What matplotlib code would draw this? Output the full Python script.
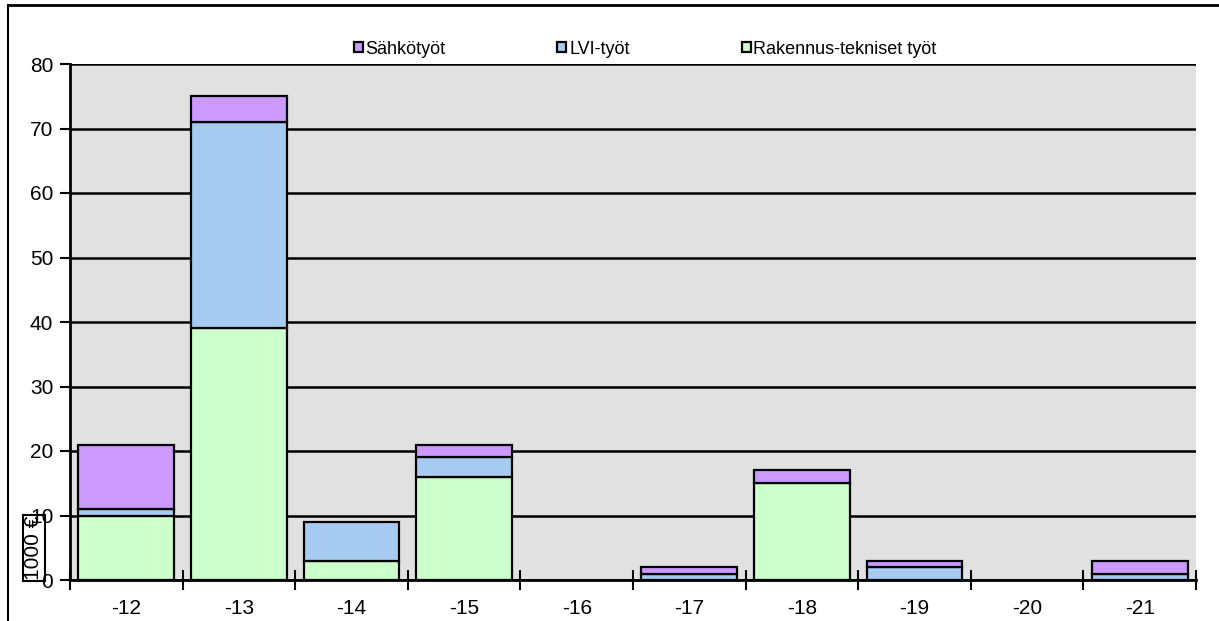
import numpy as np
import matplotlib.pyplot as plt
from matplotlib.lines import Line2D

# kustannukset 1000 € / vuosi
years = ['-12', '-13', '-14', '-15', '-16', '-17', '-18', '-19', '-20', '-21']
rakennus = [10, 39, 3, 16, 0, 0, 15, 0, 0, 0]
lvi = [1, 32, 6, 3, 0, 1, 0, 2, 0, 1]
sahko = [10, 4, 0, 2, 0, 1, 2, 1, 0, 2]

plt.rcParams['font.family'] = ['Liberation Sans', 'DejaVu Sans']

fig = plt.figure(figsize=(12.19, 6.21), dpi=100)
ax = fig.add_axes([70 / 1219, 41 / 621, 1126 / 1219, 516 / 621])
ax.set_facecolor('#E1E1E1')

x = np.arange(len(years))
w = 0.85
ec = dict(edgecolor='black', linewidth=1.6)
b1 = ax.bar(x, rakennus, w, color='#CCFFCC', zorder=3, **ec)
b2 = ax.bar(x, lvi, w, bottom=rakennus, color='#A6CAF0', zorder=3, **ec)
bottom2 = [a + b for a, b in zip(rakennus, lvi)]
b3 = ax.bar(x, sahko, w, bottom=bottom2, color='#CC99FF', zorder=3, **ec)

# nollakorkuisille palkeille ei reunaviivaa
for bars in (b1, b2, b3):
    for p in bars.patches:
        if p.get_height() == 0:
            p.set_edgecolor('none')

ax.set_xlim(-0.5, len(years) - 0.5)
ax.set_ylim(0, 80)
ax.set_yticks(range(0, 81, 10))
ax.yaxis.grid(True, color='black', linewidth=1.8, zorder=1)
ax.set_axisbelow(True)

# tick marks at the category boundaries, labels in the middle
ax.set_xticks(np.arange(-0.5, len(years)), minor=False)
ax.set_xticklabels([])
ax.set_xticks(x, minor=True)
ax.set_xticklabels(years, minor=True)
ax.tick_params(axis='x', which='major', direction='inout', length=14, width=1.5)
ax.tick_params(axis='x', which='minor', length=0, pad=14, labelsize=15)
ax.tick_params(axis='y', direction='out', length=7, width=1.5, labelsize=15, pad=5)

for s in ['top', 'right']:
    ax.spines[s].set_visible(False)
for s in ['left', 'bottom']:
    ax.spines[s].set_linewidth(2)
    ax.spines[s].set_zorder(4)

ax.text(-0.032, 0.0, '1000 €', transform=ax.transAxes, rotation=90,
        fontsize=15, ha='center', va='bottom',
        bbox=dict(boxstyle='square,pad=0.05', facecolor='none', edgecolor='black', linewidth=1.5))

leg = fig.legend([b3, b2, b1], ['Sähkötyöt', 'LVI-työt', 'Rakennus-tekniset työt'],
                 loc='center', bbox_to_anchor=(645 / 1219, 1 - 49 / 621), ncol=3,
                 frameon=False, fontsize=13, handlelength=0.5, handleheight=0.5,
                 handletextpad=0.15, columnspacing=6.2)

# chart frame
fig.add_artist(Line2D([8 / 1219, 8 / 1219], [0, 1 - 5 / 621], color='black', linewidth=1.5))
fig.add_artist(Line2D([8 / 1219, 1], [1 - 5 / 621, 1 - 5 / 621], color='black', linewidth=2))

fig.savefig('out.png', dpi=100)
